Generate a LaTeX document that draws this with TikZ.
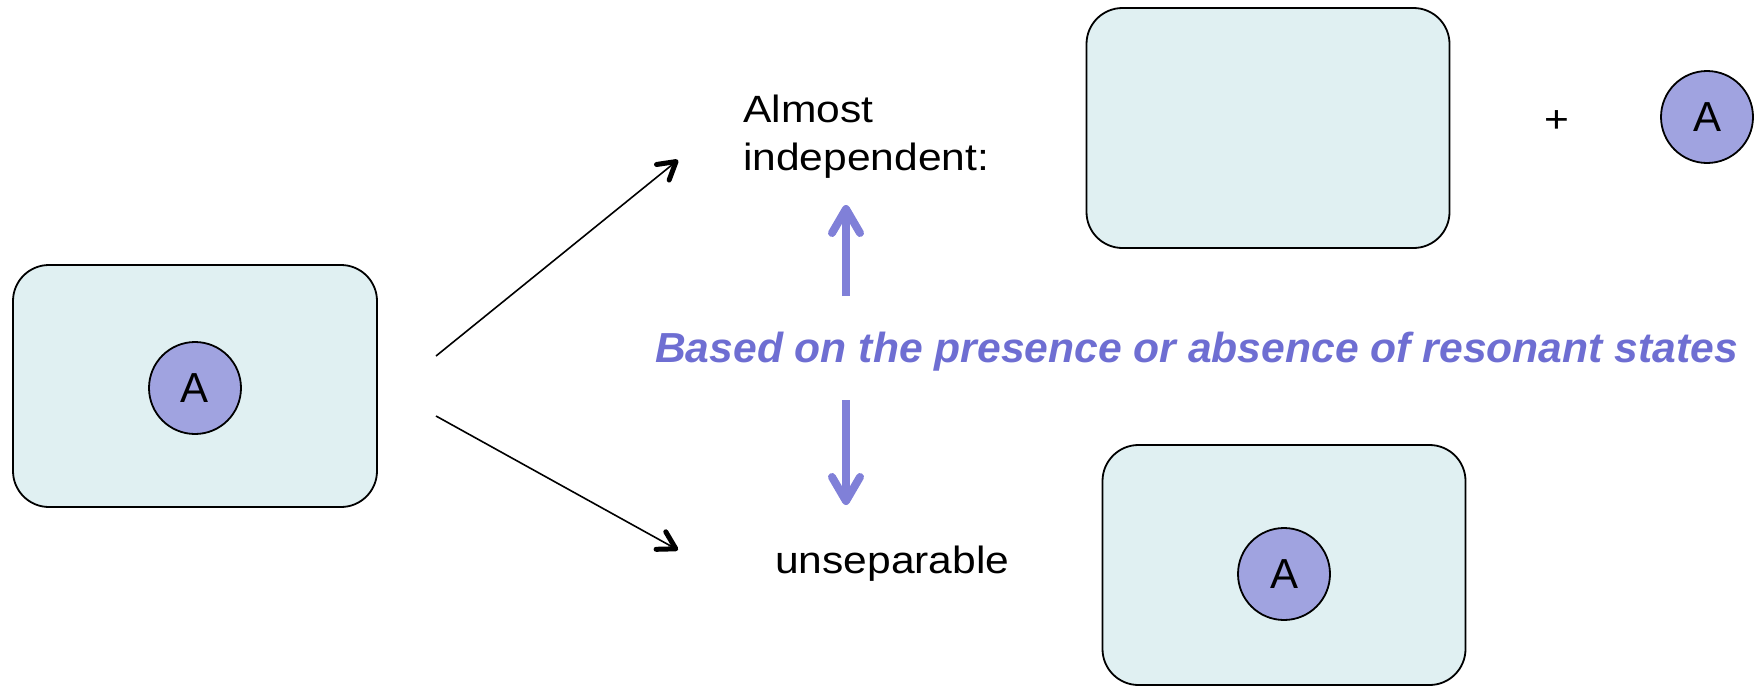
\documentclass[tikz,border=0pt]{standalone}
\usepackage{fontspec}
\setmainfont{Liberation Sans}
\newfontfamily\widesans[FakeStretch=1.12]{Liberation Sans}
\newfontfamily\bluesans[FakeStretch=1.015]{Liberation Sans}
\usetikzlibrary{arrows.meta}
\definecolor{boxfill}{RGB}{224,240,242}
\definecolor{ballfill}{RGB}{160,163,224}
\definecolor{bluearrow}{RGB}{128,128,216}
\definecolor{bluetext}{RGB}{110,110,210}
\tikzset{
  bigbox/.style={draw=black, line width=1.8pt, fill=boxfill, rounded corners=36pt, minimum width=363pt, minimum height=240pt, inner sep=0pt},
  ball/.style={circle, draw=black, line width=1.8pt, fill=ballfill, minimum size=92pt, inner sep=0pt, font=\fontsize{42}{48}\selectfont},
  label/.style={inner sep=0pt, anchor=base west, font=\widesans\fontsize{38}{48}\selectfont, align=left},
  blackarrow/.style={line width=1.6pt, -{Straight Barb[length=17pt,width=20pt,line width=5pt,round]}},
  bluearr/.style={draw=bluearrow, line width=8pt, -{Straight Barb[length=24pt,width=28pt,line width=8pt,round]}}
}
\begin{document}
\begin{tikzpicture}[x=1pt,y=-1pt]
\useasboundingbox (0,0) rectangle (1754,686);
% left
\node[bigbox, minimum width=364pt, minimum height=242pt] (L) at (195,386) {};
\node[ball] (LA) at (195,388) {A};
% top right
\node[bigbox] (T) at (1268,128) {};
\node[inner sep=0pt, font=\widesans\fontsize{38}{48}\selectfont] (plus) at (1557,122) {+};
\node[ball] (TA) at (1707,117) {A};
% bottom right
\node[bigbox] (B) at (1284,565) {};
\node[ball] (BA) at (1284,574) {A};
% labels
\node[label] (almost) at (743,170) {Almost\\independent:};
\node[label] (unsep) at (775,573) {unseparable};
\node[inner sep=0pt, anchor=base west, text=bluetext, font=\bluesans\fontsize{42}{48}\selectfont\bfseries\itshape] (based) at (655,362) {Based on the presence or absence of resonant states};
% arrows
\coordinate (s1) at (436,356);
\coordinate (e1) at (678,160);
\coordinate (s2) at (436,416);
\coordinate (e2) at (678,550);
\draw[blackarrow] (s1) -- (e1);
\draw[blackarrow] (s2) -- (e2);
\coordinate (u1) at (846,296);
\coordinate (u2) at (846,205);
\coordinate (d1) at (846,400);
\coordinate (d2) at (846,505);
\draw[bluearr] (u1) -- (u2);
\draw[bluearr] (d1) -- (d2);
\end{tikzpicture}
\end{document}
